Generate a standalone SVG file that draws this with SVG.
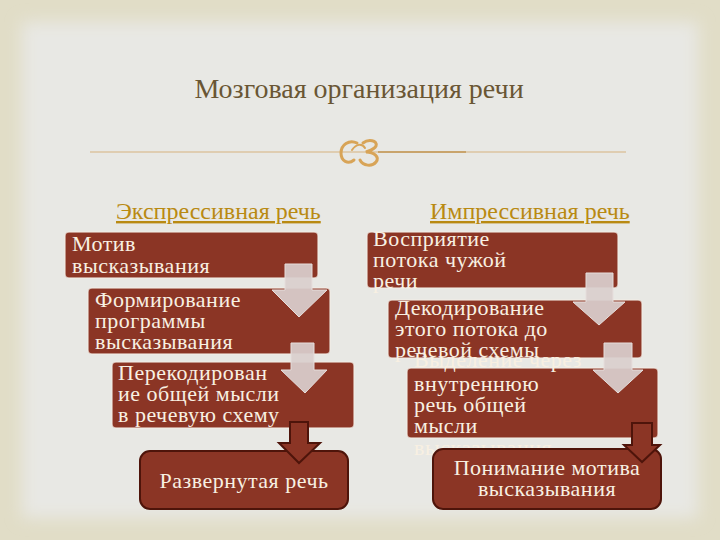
<svg xmlns="http://www.w3.org/2000/svg" width="720" height="540" viewBox="0 0 720 540">
<defs>
<filter id="soft" x="-10%" y="-10%" width="120%" height="120%"><feGaussianBlur stdDeviation="8"/></filter>
<style>
.title{font-family:"Liberation Serif","Times New Roman",serif;font-size:28px;fill:#6a5634}
.sub{font-family:"Liberation Serif","Times New Roman",serif;font-size:24px;fill:#b98a12;text-decoration:underline}
.box{fill:#8b3525;stroke:#f4ece6;stroke-opacity:0.7;stroke-width:1.5}
.endbox{fill:#8b3525;stroke:#4e140a;stroke-width:2}
.t{font-family:"Liberation Serif","Times New Roman",serif;font-size:22px;letter-spacing:0.5px;fill:#f8f0e2}
.tc{font-family:"Liberation Serif","Times New Roman",serif;font-size:22px;letter-spacing:0.5px;fill:#f8f0e2;text-anchor:middle}
.arr{fill:#d9cfcd;fill-opacity:0.93;stroke:#e6dedc;stroke-width:1}
.arrd{fill:#8b3525;stroke:#4e140a;stroke-width:2;stroke-linejoin:miter}
</style>
</defs>
<rect x="0" y="0" width="720" height="540" fill="#e1ddc7"/>
<rect x="22" y="22" width="676" height="496" fill="#e8e8e4" filter="url(#soft)"/>

<g id="header">
<text class="title" x="359" y="98" text-anchor="middle">Мозговая организация речи</text>
<line x1="90" y1="152" x2="626" y2="152" stroke="#d6b27e" stroke-width="1"/>
<line x1="378" y1="152" x2="466" y2="152" stroke="#c9a46c" stroke-width="2"/>
<g id="ornament" fill="none" stroke="#d8a457" stroke-linecap="round">
<path d="M357 143 C349 139 341 145 341 153 C341 161 348 165 354 160" stroke-width="3"/>
<path d="M352 150 C356 144 362 143 365 148" stroke-width="2"/>
<path d="M363 143 C368 139 378 140 376 146 C374 150 368 151 366 152 C374 152 380 157 376 162 C372 167 363 166 360 160" stroke-width="3"/>
</g>
</g>

<g id="subtitles">
<text class="sub" x="116" y="219">Экспрессивная речь</text>
<text class="sub" x="430" y="219">Импрессивная речь</text>
</g>

<g id="left1"><rect class="box" x="65" y="232" width="253" height="46" rx="4"/>
<text class="t" x="72" y="251">Мотив</text><text class="t" x="72" y="273">высказывания</text></g>
<g id="left2"><rect class="box" x="88" y="288" width="242" height="66" rx="4"/>
<text class="t" x="95" y="307">Формирование</text><text class="t" x="95" y="328">программы</text><text class="t" x="95" y="349">высказывания</text></g>
<g id="left3"><rect class="box" x="112" y="362" width="242" height="66" rx="4"/>
<text class="t" x="118" y="380">Перекодирован</text><text class="t" x="118" y="401">ие общей мысли</text><text class="t" x="118" y="422">в речевую схему</text></g>
<g id="left4"><rect class="endbox" x="140" y="451" width="208" height="58" rx="10"/>
<text class="tc" x="244" y="488">Развернутая речь</text></g>

<g id="right1"><rect class="box" x="367" y="232" width="251" height="56" rx="4"/>
<text class="t" x="373" y="246">Восприятие</text><text class="t" x="373" y="267">потока чужой</text><text class="t" x="373" y="288">речи</text></g>
<g id="right2"><rect class="box" x="388" y="300" width="254" height="58" rx="4"/>
<text class="t" x="395" y="315">Декодирование</text><text class="t" x="395" y="336">этого потока до</text><text class="t" x="395" y="357">речевой схемы</text></g>
<g id="right3"><rect class="box" x="407" y="368" width="251" height="70" rx="4"/>
<text class="t" x="414" y="367">Выделение через</text><text class="t" x="414" y="391">внутреннюю</text><text class="t" x="414" y="412">речь общей</text><text class="t" x="414" y="433">мысли</text><text class="t" x="414" y="455">высказывания</text></g>
<g id="right4"><rect class="endbox" x="433" y="449" width="228" height="60" rx="10"/>
<text class="tc" x="547" y="475">Понимание мотива</text><text class="tc" x="547" y="496">высказывания</text></g>

<g id="connectors">
<path class="arr" d="M285 264 H312 V290 H327 L299 317 L272 290 H285 Z"/>
<path class="arr" d="M291 343 H314 V370 H327 L305 393 L281 370 H291 Z"/>
<path class="arrd" d="M290 422 H308 V443 H320 L299 463 L279 443 H290 Z"/>
<path class="arr" d="M586 273 H613 V302 H625 L599 325 L573 302 H586 Z"/>
<path class="arr" d="M604 343 H632 V370 H643 L618 393 L593 370 H604 Z"/>
<path class="arrd" d="M632 423 H652 V445 H660 L642 462 L624 445 H632 Z"/>
</g>
</svg>
